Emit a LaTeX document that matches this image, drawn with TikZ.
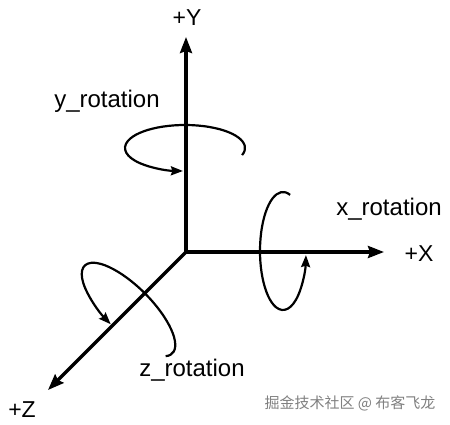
\documentclass[tikz,border=0pt]{standalone}
\usepackage{fontspec}
\setmainfont{Liberation Sans}
\newfontfamily\cjk{Noto Sans CJK SC}
\usetikzlibrary{arrows.meta}

\begin{document}
\begin{tikzpicture}[x=1pt, y=1pt, >={Stealth[length=16pt, width=12pt, inset=2pt]},
    axis/.style={->, line width=3.3pt},
    rotarc/.style={line width=2.2pt, -{Stealth[length=12pt, width=9pt, inset=1.5pt]}},
    axislabel/.style={font=\fontsize{23}{26}\selectfont},
    rotlabel/.style={font=\fontsize{24}{28}\selectfont}]
    \useasboundingbox (0,0) rectangle (450,-425);
    \coordinate (o) at (186,-252);
    \coordinate (xtip) at (384,-252);
    \coordinate (ytip) at (186,-37);
    \coordinate (ztip) at (48,-390);
    \draw[axis] (o) -- (xtip);
    \draw[axis] (o) -- (ytip);
    \draw[axis] (o) -- (ztip);
    \node[axislabel] (xlabel) at (419,-254) {+X};
    \node[axislabel] (ylabel) at (187,-18) {+Y};
    \node[axislabel] (zlabel) at (22,-410) {+Z};
    % rotations about each axis
    \coordinate (xc) at (283,-251);
    \coordinate (yc) at (185,-148);
    \coordinate (zc) at (128.5,-309.5);
    \draw[rotarc] (yc) ++(-18:60pt and 23pt) arc[start angle=-18, end angle=268, x radius=60pt, y radius=23pt];
    \draw[rotarc] (xc) ++(72:23pt and 59pt) arc[start angle=72, end angle=356, x radius=23pt, y radius=59pt];
    \begin{scope}[shift={(zc)}, rotate=-45]
        \draw[rotarc] (-17:62pt and 23pt) arc[start angle=-17, end angle=268, x radius=62pt, y radius=23pt];
    \end{scope}
    \node[rotlabel] (yrot) at (107,-101) {y\_rotation};
    \node[rotlabel] (xrot) at (389,-209) {x\_rotation};
    \node[rotlabel] (zrot) at (192,-370) {z\_rotation};
    \node[font=\cjk\fontsize{15}{18}\selectfont, text=black!50] (mark) at (350,-403) {掘金技术社区 @ 布客飞龙};
\end{tikzpicture}
\end{document}
